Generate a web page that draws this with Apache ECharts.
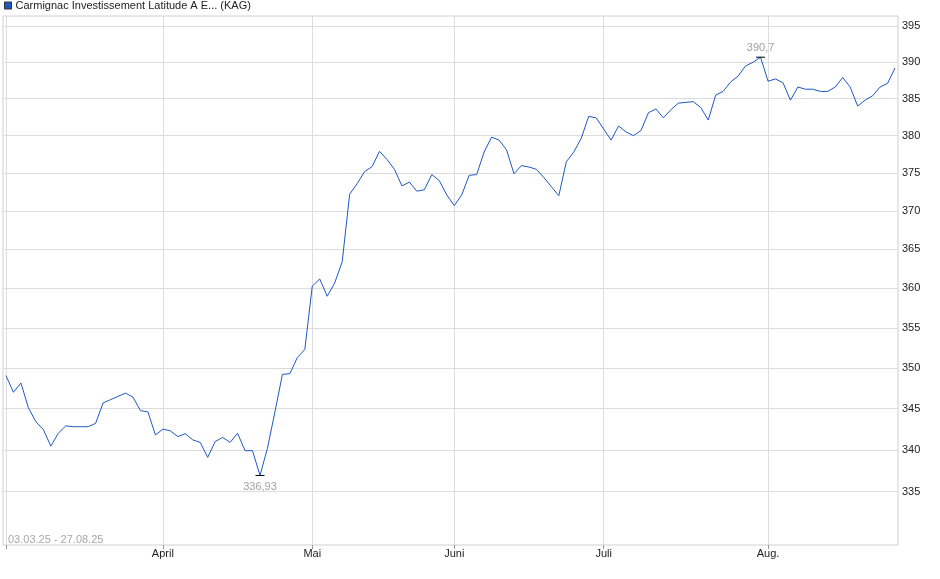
<!DOCTYPE html>
<html>
<head>
<meta charset="utf-8">
<script src="https://cdn.jsdelivr.net/npm/echarts@6/dist/echarts.min.js"></script>
<style>
  html, body { margin: 0; padding: 0; background: #fff; }
  #chart { width: 940px; height: 579px; }
</style>
</head>
<body>
<div id="chart"></div>
<script>
// Kurswerte je Handelstag, 03.03.25 - 27.08.25
const seriesName = 'Carmignac Investissement Latitude A E... (KAG)';
const dateRange = '03.03.25 - 27.08.25';
const values = [
  349.05, 347.0, 348.15, 345.1, 343.4, 342.45, 340.45, 342.0, 342.9, 342.8,
  342.8, 342.8, 343.2, 345.7, 346.1, 346.5, 346.9, 346.4, 344.75, 344.6,
  341.8, 342.5, 342.3, 341.6, 341.95, 341.2, 340.9, 339.1, 341.0, 341.5,
  340.9, 342.0, 339.9, 339.9, 336.93, 340.2, 344.6, 349.2, 349.3, 351.3,
  352.3, 360.3, 361.2, 359.0, 360.7, 363.4, 372.2, 373.6, 375.2, 375.85,
  377.9, 376.8, 375.5, 373.3, 373.8, 372.6, 372.8, 374.8, 374.0, 372.1,
  370.7, 372.1, 374.7, 374.8, 377.8, 379.8, 379.4, 378.1, 374.9, 376.0,
  375.8, 375.5, 374.4, 373.2, 372.0, 376.5, 377.8, 379.65, 382.6, 382.4,
  380.9, 379.4, 381.3, 380.5, 380.0, 380.7, 383.1, 383.6, 382.4, 383.5,
  384.4, 384.5, 384.6, 383.8, 382.1, 385.5, 386.0, 387.3, 388.1, 389.5,
  390.0, 390.7, 387.4, 387.7, 387.2, 384.8, 386.6, 386.3, 386.3, 386.0,
  386.0, 386.6, 387.9, 386.6, 384.0, 384.8, 385.4, 386.6, 387.1, 389.2
];
// Monatsanfaenge (Index des ersten Handelstags)
const monthStarts = [0, 21, 41, 60, 80, 102];
const monthNames = ['', 'April', 'Mai', 'Juni', 'Juli', 'Aug.'];
const yTicks = [335, 340, 345, 350, 355, 360, 365, 370, 375, 380, 385, 390, 395];
const yMin = 328.74;
const yMax = 396.44;

// logarithmische Skala: Werte werden als ln() aufgetragen
const lineData = values.map((v, i) => [i, Math.log(v)]);

function fmt(v) {
  return String(Math.round(v * 100) / 100).replace('.', ',');
}

const chart = echarts.init(document.getElementById('chart'));
chart.setOption({
  animation: false,
  textStyle: { fontFamily: 'Liberation Sans, Arial, sans-serif' },
  legend: {
    left: 4,
    top: 0,
    padding: 0,
    itemWidth: 7,
    itemHeight: 7,
    itemGap: 4,
    icon: 'rect',
    textStyle: { fontSize: 11, color: '#222', padding: [0, 0, 0, -1] },
    data: [{ name: seriesName, itemStyle: { color: '#1f57c3', borderColor: '#333', borderWidth: 1 } }]
  },
  title: {
    text: dateRange,
    left: 3,
    bottom: 29,
    textStyle: { fontSize: 11, fontWeight: 'normal', color: '#a8a8a8' }
  },
  grid: {
    left: 3, right: 42, top: 16, bottom: 34,
    show: true, borderColor: '#d0d0d0', borderWidth: 1
  },
  xAxis: {
    type: 'value',
    min: -0.4,
    max: 119.4,
    axisLine: { show: false },
    axisTick: { show: true, customValues: monthStarts, length: 4, lineStyle: { color: '#999' } },
    splitLine: { show: true, lineStyle: { color: '#dcdcdc' } },
    axisLabel: {
      customValues: monthStarts.slice(1),
      fontSize: 11, color: '#222', margin: 3,
      formatter: v => monthNames[monthStarts.indexOf(Math.round(v))]
    }
  },
  yAxis: {
    type: 'value',
    position: 'right',
    min: Math.log(yMin),
    max: Math.log(yMax),
    axisLine: { show: false },
    axisTick: { show: false, customValues: yTicks.map(Math.log) },
    splitLine: { show: true, lineStyle: { color: '#dcdcdc' } },
    axisLabel: {
      customValues: yTicks.map(Math.log),
      fontSize: 11, color: '#222', margin: 4,
      formatter: v => String(Math.round(Math.exp(v)))
    }
  },
  series: [{
    name: seriesName,
    type: 'line',
    data: lineData,
    showSymbol: false,
    symbol: 'none',
    color: '#1f57c3',
    lineStyle: { width: 1, color: '#1f57c3' },
    markPoint: {
      symbol: 'rect',
      symbolSize: [9, 1],
      itemStyle: { color: '#000' },
      label: {
        show: true, fontSize: 11, color: '#a0a0a0',
        formatter: p => fmt(Math.exp(p.value))
      },
      data: [
        { type: 'max', label: { position: 'top', distance: 3 } },
        { type: 'min', label: { position: 'bottom', distance: 5 } }
      ]
    }
  }]
});
</script>
</body>
</html>
